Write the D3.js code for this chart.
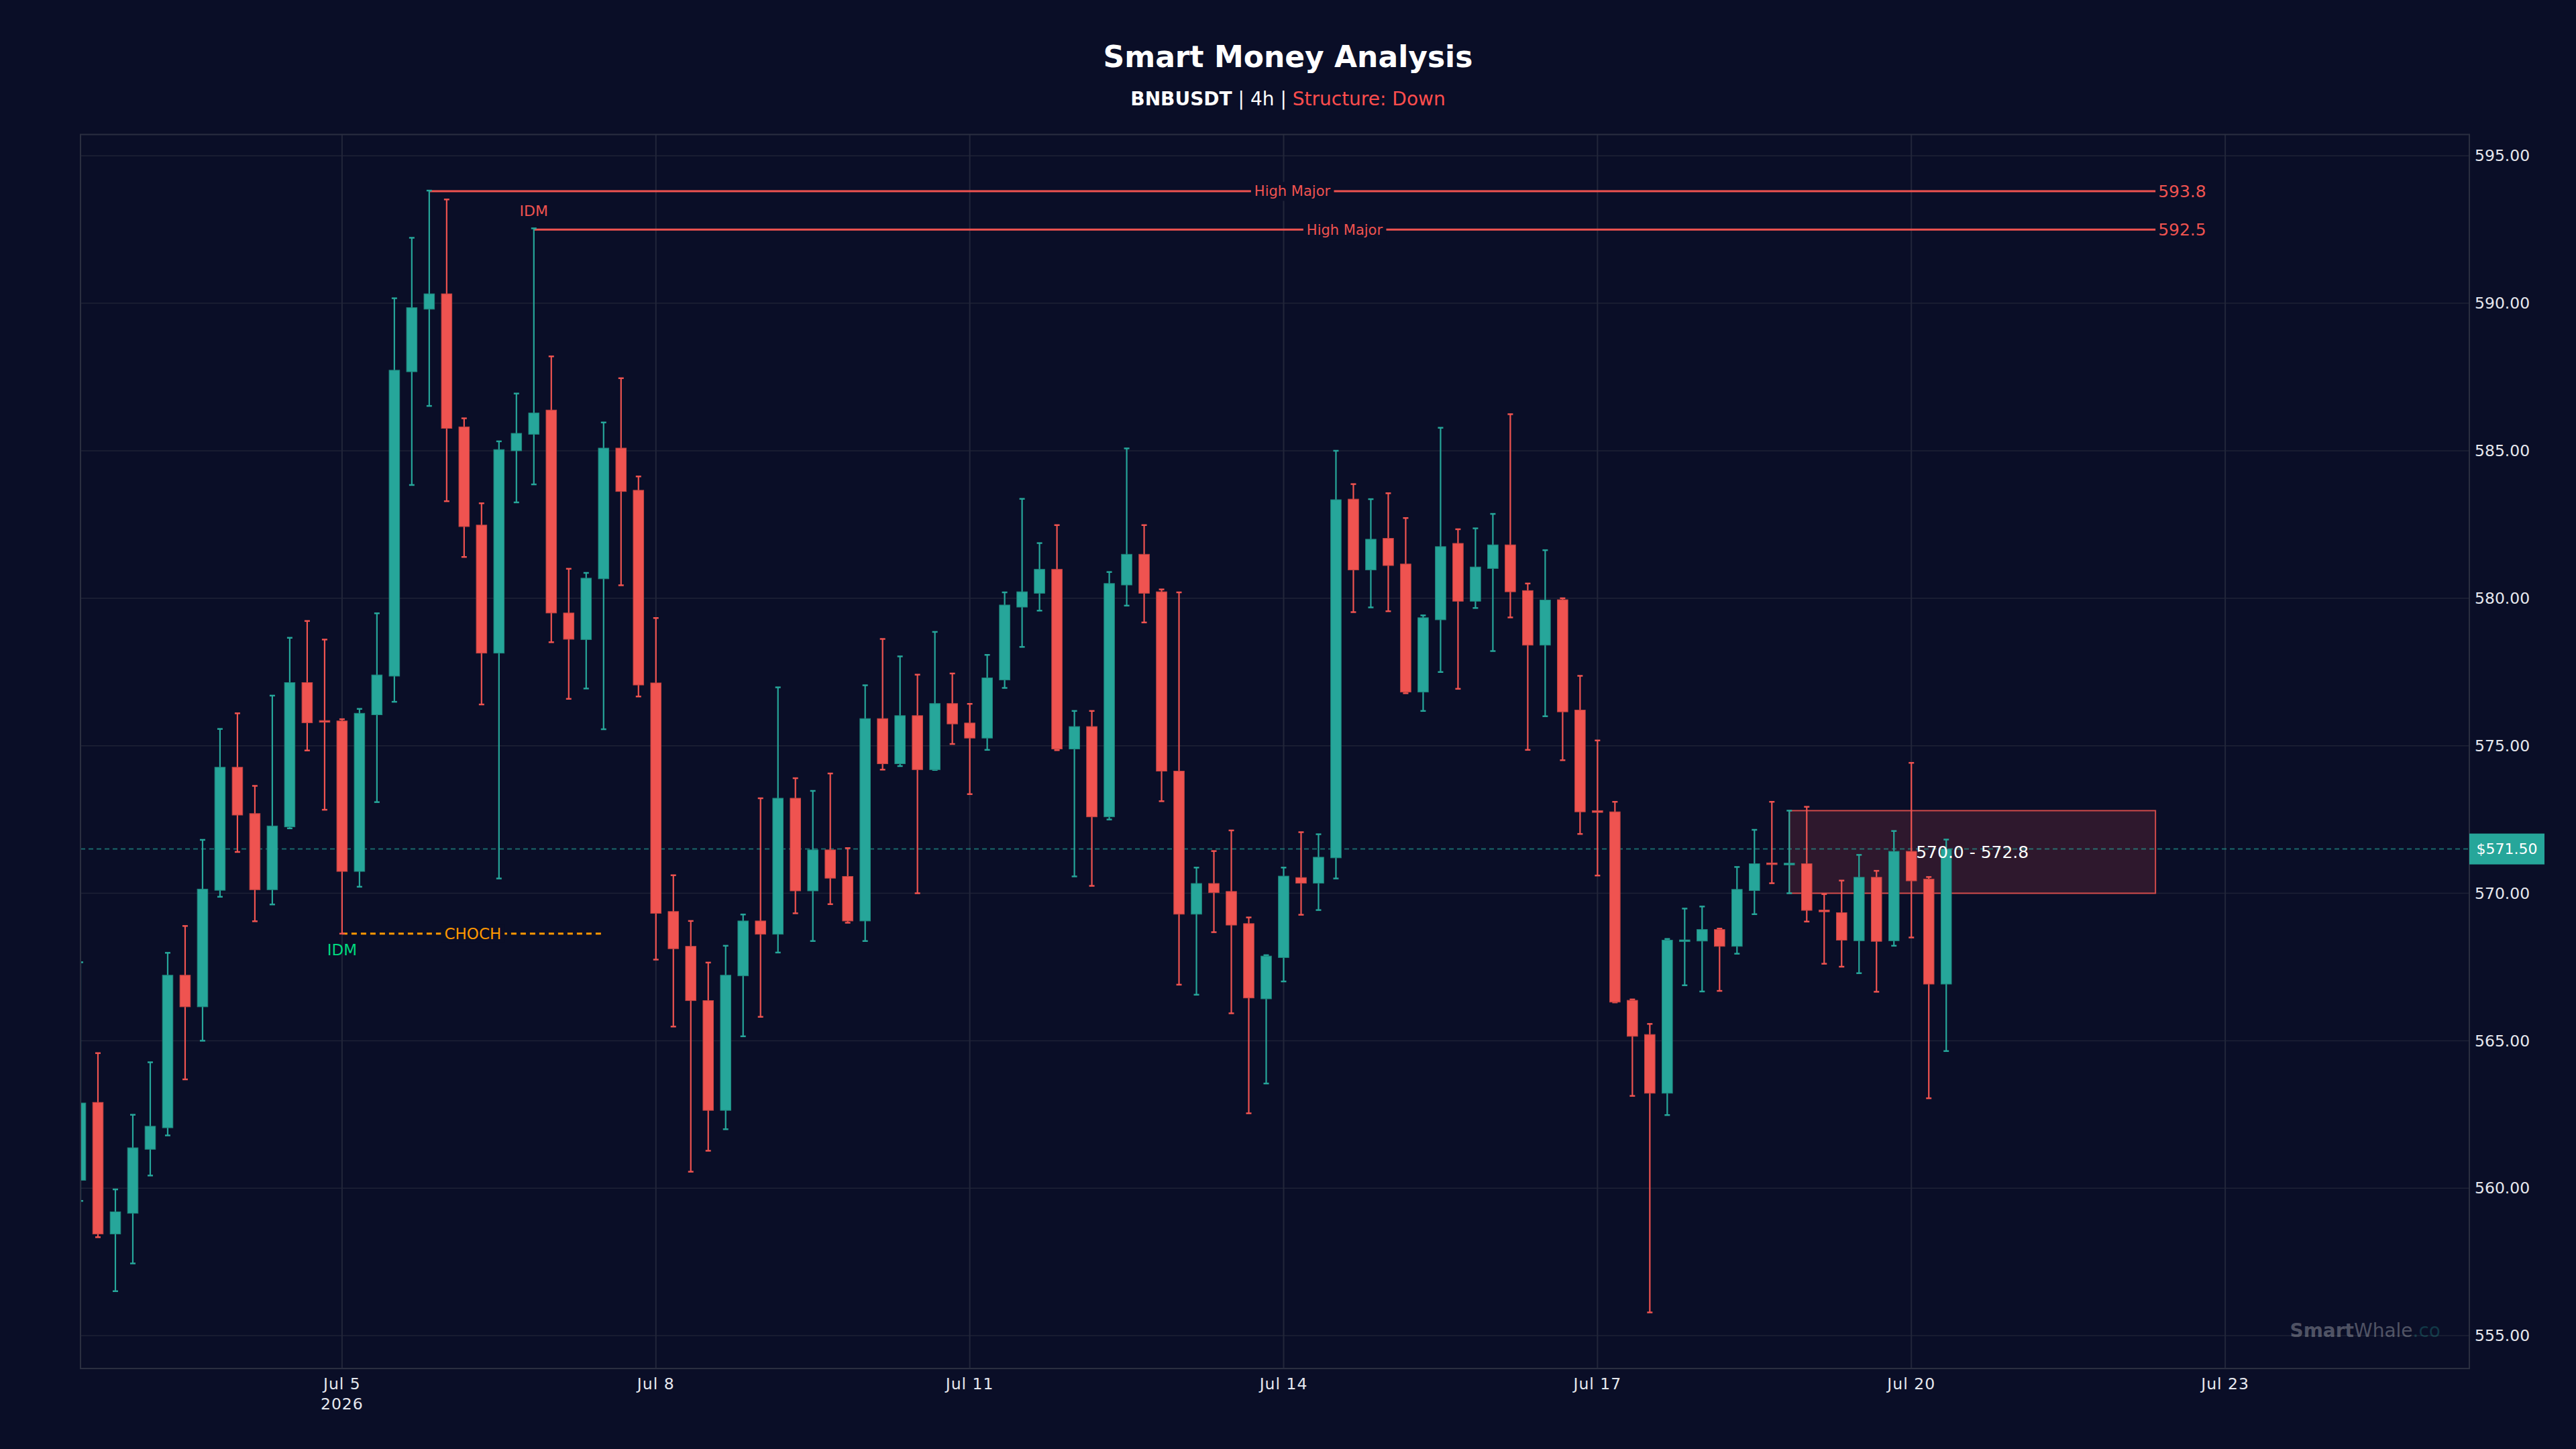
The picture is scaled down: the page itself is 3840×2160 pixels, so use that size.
<!DOCTYPE html>
<html>
<head>
<meta charset="utf-8">
<script src="https://cdn.jsdelivr.net/npm/d3@7"></script>
<style>
  html, body { margin: 0; padding: 0; background: #0a0e27; }
  svg { display: block; font-family: "DejaVu Sans", sans-serif; }
</style>
</head>
<body>
<svg id="chart" width="3840" height="2160"></svg>
<script>
// 4h candles, BNBUSDT, first bar Jul 2 2026 12:00 UTC
var startTime = Date.UTC(2026, 6, 2, 12);
var barMs = 4 * 3600 * 1000;

var opens = [560.27,562.91,558.45,559.15,561.32,562.05,567.22,566.15,570.10,574.27,572.70,570.12,572.25,577.14,575.85,575.84,570.74,576.05,577.36,587.68,
  589.80,590.32,585.81,582.48,578.14,585.00,585.56,586.38,579.50,578.60,580.66,585.09,583.66,577.13,569.38,568.20,566.36,562.64,567.20,569.06,
  568.61,573.22,570.08,571.47,570.57,569.06,575.92,574.39,576.02,574.19,576.43,575.77,575.26,577.23,579.70,580.17,580.98,574.89,575.65,572.59,
  580.45,581.49,580.22,574.14,569.29,570.33,570.06,568.97,566.42,567.82,570.53,570.34,571.20,583.36,580.96,582.03,581.16,576.82,579.27,581.86,
  579.90,581.01,581.81,580.26,578.41,579.95,576.21,572.80,572.76,566.37,565.21,563.22,568.38,568.38,568.77,568.20,570.09,571.02,570.98,571.00,
  569.42,569.34,568.39,570.54,568.39,571.42,570.48,566.92];
var highs = [567.66,564.58,559.96,562.49,564.27,567.98,568.89,571.81,575.57,576.10,573.64,576.70,578.66,579.23,578.60,575.90,576.25,579.49,590.17,592.22,
  593.82,593.52,586.10,583.22,585.32,586.94,592.54,588.20,581.00,580.86,585.96,587.46,584.13,579.33,570.61,569.06,567.65,568.22,569.28,573.22,
  576.98,573.90,573.47,574.06,571.53,577.05,578.62,578.03,577.41,578.86,577.45,576.42,578.08,580.20,583.37,581.87,582.48,576.18,576.18,580.89,
  585.08,582.48,580.30,580.20,570.87,571.43,572.13,569.18,567.90,570.87,572.07,572.00,585.00,583.87,583.36,583.56,582.72,579.42,585.78,582.34,
  582.37,582.86,586.24,580.50,581.63,580.00,577.37,575.18,573.10,566.40,565.57,568.45,569.48,569.55,568.80,570.89,572.15,573.10,572.80,572.93,
  569.97,570.43,571.30,570.76,572.11,574.42,570.55,571.82];
var lows = [559.57,558.34,556.51,557.45,560.43,561.79,563.69,565.00,569.88,571.40,569.05,569.62,572.20,574.84,572.83,568.63,570.22,573.09,576.49,583.84,
  586.52,583.29,581.40,576.40,570.50,583.25,583.86,578.51,576.59,576.94,575.56,580.44,576.67,567.75,565.48,560.56,561.27,562.00,565.15,565.81,
  567.99,569.32,568.38,569.63,569.00,568.38,574.19,574.31,570.00,574.18,575.06,573.36,574.86,576.96,578.35,579.58,574.85,570.57,570.25,572.50,
  579.75,579.18,573.12,566.90,566.56,568.68,565.93,562.54,563.55,567.01,569.27,569.43,570.50,579.53,579.69,579.56,576.78,576.18,577.50,576.93,
  579.67,578.21,579.35,574.86,576.00,574.51,572.01,570.60,566.30,563.13,555.79,562.48,566.88,566.67,566.69,567.95,569.29,570.34,570.00,569.04,
  567.61,567.51,567.29,566.66,568.22,568.50,563.05,564.65];
var closes = [562.89,558.45,559.20,561.37,562.10,567.22,566.15,570.14,574.27,572.65,570.12,572.28,577.14,575.78,575.80,570.74,576.10,577.40,587.73,589.85,
  590.32,585.76,582.43,578.14,585.04,585.59,586.28,579.50,578.61,580.68,585.09,583.62,577.06,569.32,568.12,566.36,562.64,567.22,569.06,568.61,
  573.22,570.08,571.47,570.51,569.06,575.92,574.39,576.02,574.19,576.43,575.74,575.26,577.30,579.77,580.22,580.98,574.89,575.65,572.59,580.50,
  581.49,580.17,574.14,569.29,570.33,570.02,568.92,566.45,567.87,570.58,570.34,571.22,583.34,580.96,582.00,581.11,576.82,579.34,581.75,579.90,
  581.06,581.81,580.22,578.41,579.94,576.15,572.76,572.74,566.31,565.15,563.22,568.41,568.40,568.77,568.20,570.13,571.00,570.98,571.00,569.42,
  569.38,568.41,570.54,568.37,571.42,570.42,566.92,571.50];

var yTicks = [555, 560, 565, 570, 575, 580, 585, 590, 595];
var xTickDays = [5, 8, 11, 14, 17, 20, 23];

// smart money structure
var majorLevels = [593.8, 592.5];
var majorStart = [20, 26];
var majorText = ["High Major", "High Major"];
var chochPrice = 568.63, chochFrom = 15, chochTo = 30;
var zoneLow = 570.0, zoneHigh = 572.8, zoneFrom = 98;
var levelEnd = 119; // bars
var lastPrice = 571.50;

var bg = "#0a0e27", up = "#26a69a", down = "#ef5350";
var gridColor = "#1e2236", spineColor = "#2a2e40", textColor = "#e6e8ee";

var W = 3840, H = 2160;
var margin = {left: 120, right: 159, top: 200.5, bottom: 120};
var plotW = W - margin.left - margin.right;
var plotH = H - margin.top - margin.bottom;

var bars = opens.map(function (o, i) {
  return {t: new Date(startTime + i * barMs), o: o, h: highs[i], l: lows[i], c: closes[i]};
});
function barTime(i) { return new Date(startTime + i * barMs); }

var lo = d3.min(lows), hi = d3.max(highs), pad = (hi - lo) * 0.05;
var x = d3.scaleUtc().domain([barTime(0), barTime(137)]).range([0, plotW]);
var y = d3.scaleLinear().domain([lo - pad, hi + pad]).range([plotH, 0]);
var step = x(barTime(1)) - x(barTime(0));
var bodyW = step * 0.6;

var svg = d3.select("#chart");
svg.append("rect").attr("width", W).attr("height", H).attr("fill", bg);

svg.append("defs").append("clipPath").attr("id", "plotclip")
  .append("rect").attr("width", plotW).attr("height", plotH);

var g = svg.append("g").attr("transform", "translate(" + margin.left + "," + margin.top + ")");

// grid
g.selectAll(".hgrid").data(yTicks).enter().append("line")
  .attr("x1", 0).attr("x2", plotW)
  .attr("y1", function (d) { return y(d); }).attr("y2", function (d) { return y(d); })
  .attr("stroke", gridColor).attr("stroke-width", 1.5);
var xTicks = xTickDays.map(function (d) { return new Date(Date.UTC(2026, 6, d)); });
g.selectAll(".vgrid").data(xTicks).enter().append("line")
  .attr("x1", function (d) { return x(d); }).attr("x2", function (d) { return x(d); })
  .attr("y1", 0).attr("y2", plotH)
  .attr("stroke", "#22263a").attr("stroke-width", 2);

var plot = g.append("g").attr("clip-path", "url(#plotclip)");

// supply zone
var zoneX0 = x(barTime(zoneFrom)), zoneX1 = x(barTime(levelEnd));
plot.append("rect")
  .attr("x", zoneX0).attr("y", y(zoneHigh))
  .attr("width", zoneX1 - zoneX0).attr("height", y(zoneLow) - y(zoneHigh))
  .attr("fill", down).attr("fill-opacity", 0.16)
  .attr("stroke", down).attr("stroke-opacity", 0.85).attr("stroke-width", 2);

// last price line
plot.append("line")
  .attr("x1", 0).attr("x2", plotW).attr("y1", y(lastPrice)).attr("y2", y(lastPrice))
  .attr("stroke", up).attr("stroke-opacity", 0.6).attr("stroke-width", 2)
  .attr("stroke-dasharray", "7,5");

// major highs
majorLevels.forEach(function (p, k) {
  var x0 = x(barTime(majorStart[k])), x1 = x(barTime(levelEnd));
  plot.append("line")
    .attr("x1", x0).attr("x2", x1).attr("y1", y(p)).attr("y2", y(p))
    .attr("stroke", down).attr("stroke-width", 3);
});

// CHOCH line
plot.append("line")
  .attr("x1", x(barTime(chochFrom))).attr("x2", x(barTime(chochTo)))
  .attr("y1", y(chochPrice)).attr("y2", y(chochPrice))
  .attr("stroke", "#ff9800").attr("stroke-width", 3).attr("stroke-dasharray", "8,6");

// candles
var candle = plot.selectAll(".candle").data(bars).enter().append("g");
candle.each(function (d) {
  var sel = d3.select(this);
  var col = d.c >= d.o ? up : down;
  var cx = x(d.t);
  sel.append("line").attr("x1", cx).attr("x2", cx).attr("y1", y(d.h)).attr("y2", y(d.l))
    .attr("stroke", col).attr("stroke-width", 2.2);
  [d.h, d.l].forEach(function (v) {
    sel.append("line").attr("x1", cx - 4).attr("x2", cx + 4).attr("y1", y(v)).attr("y2", y(v))
      .attr("stroke", col).attr("stroke-width", 2.5);
  });
  var top = y(Math.max(d.o, d.c)), bot = y(Math.min(d.o, d.c));
  var hgt = Math.max(bot - top, 2.5);
  sel.append("rect").attr("x", cx - bodyW / 2).attr("y", top - (hgt - (bot - top)) / 2)
    .attr("width", bodyW).attr("height", hgt)
    .attr("fill", col).attr("stroke", d3.color(col).darker(0.6)).attr("stroke-width", 1);
});

// labels on the structure
majorLevels.forEach(function (p, k) {
  var x0 = x(barTime(majorStart[k])), x1 = x(barTime(levelEnd));
  var lbl = g.append("g").attr("transform", "translate(" + ((x0 + x1) / 2) + "," + y(p) + ")");
  var t = lbl.append("text").attr("text-anchor", "middle").attr("dy", "0.35em")
    .attr("font-size", 21).attr("fill", down).text(majorText[k]);
  var bb = t.node().getBBox();
  lbl.insert("rect", "text").attr("x", bb.x - 5).attr("y", bb.y - 2)
    .attr("width", bb.width + 10).attr("height", bb.height + 4).attr("fill", bg);
  g.append("text").attr("x", x1 + 4).attr("y", y(p)).attr("dy", "0.35em")
    .attr("font-size", 25).attr("fill", down).text(p.toFixed(1));
});

g.append("text").attr("x", x(barTime(majorStart[1]))).attr("y", y(majorLevels[1]) - 28)
  .attr("dy", "0.35em").attr("text-anchor", "middle")
  .attr("font-size", 22).attr("fill", down).text("IDM");

var chochLbl = g.append("g").attr("transform",
  "translate(" + ((x(barTime(chochFrom)) + x(barTime(chochTo))) / 2) + "," + y(chochPrice) + ")");
var ct = chochLbl.append("text").attr("text-anchor", "middle").attr("dy", "0.35em")
  .attr("font-size", 23).attr("fill", "#ff9800").text("CHOCH");
var cb = ct.node().getBBox();
chochLbl.insert("rect", "text").attr("x", cb.x - 5).attr("y", cb.y)
  .attr("width", cb.width + 10).attr("height", cb.height).attr("fill", bg);

g.append("text").attr("x", x(barTime(chochFrom))).attr("y", y(chochPrice) + 24)
  .attr("dy", "0.35em").attr("text-anchor", "middle")
  .attr("font-size", 23).attr("fill", "#00d97e").text("IDM");

g.append("text").attr("x", (zoneX0 + zoneX1) / 2).attr("y", y((zoneLow + zoneHigh) / 2))
  .attr("dy", "0.35em").attr("text-anchor", "middle")
  .attr("font-size", 25).attr("fill", "#ffffff").text(zoneLow.toFixed(1) + " - " + zoneHigh.toFixed(1));

// spines
g.append("rect").attr("width", plotW).attr("height", plotH)
  .attr("fill", "none").attr("stroke", spineColor).attr("stroke-width", 2);

// right price axis
g.selectAll(".ylab").data(yTicks).enter().append("text")
  .attr("x", plotW + 8).attr("y", function (d) { return y(d); }).attr("dy", "0.35em")
  .attr("font-size", 23.5).attr("fill", textColor)
  .text(function (d) { return d.toFixed(2); });

var tag = g.append("g").attr("transform", "translate(" + plotW + "," + y(lastPrice) + ")");
tag.append("rect").attr("x", 0).attr("y", -23).attr("width", 112).attr("height", 46).attr("fill", up);
tag.append("text").attr("x", 56).attr("dy", "0.35em").attr("text-anchor", "middle")
  .attr("font-size", 22).attr("fill", "#ffffff").text("$" + lastPrice.toFixed(2));

// time axis
var fmt = d3.utcFormat("%b %-d");
var xl = g.selectAll(".xlab").data(xTicks).enter().append("text")
  .attr("x", function (d) { return x(d); }).attr("y", plotH + 31)
  .attr("text-anchor", "middle").attr("font-size", 23.5).attr("fill", textColor)
  .attr("letter-spacing", 1);
xl.append("tspan").text(fmt);
xl.filter(function (d, i) { return i === 0; }).append("tspan")
  .attr("x", function (d) { return x(d); }).attr("dy", 30).text("2026");

// titles
svg.append("text").attr("x", W / 2).attr("y", 100).attr("text-anchor", "middle")
  .attr("font-size", 44).attr("font-weight", "bold").attr("fill", "#ffffff")
  .text("Smart Money Analysis");
var sub = svg.append("text").attr("x", W / 2).attr("y", 157).attr("text-anchor", "middle")
  .attr("font-size", 28).attr("fill", "#ffffff");
sub.append("tspan").attr("font-weight", "bold").text("BNBUSDT");
sub.append("tspan").text(" | 4h | ");
sub.append("tspan").attr("fill", "#ff4d4d").text("Structure: Down");

// watermark
var wm = g.append("text").attr("x", plotW - 43).attr("y", 1993 - margin.top)
  .attr("text-anchor", "end").attr("font-size", 28).attr("fill-opacity", 0.3);
wm.append("tspan").attr("font-weight", "bold").attr("fill", "#ffffff").text("Smart");
wm.append("tspan").attr("fill", "#ffffff").text("Whale");
wm.append("tspan").attr("fill", up).text(".co");
</script>
</body>
</html>
